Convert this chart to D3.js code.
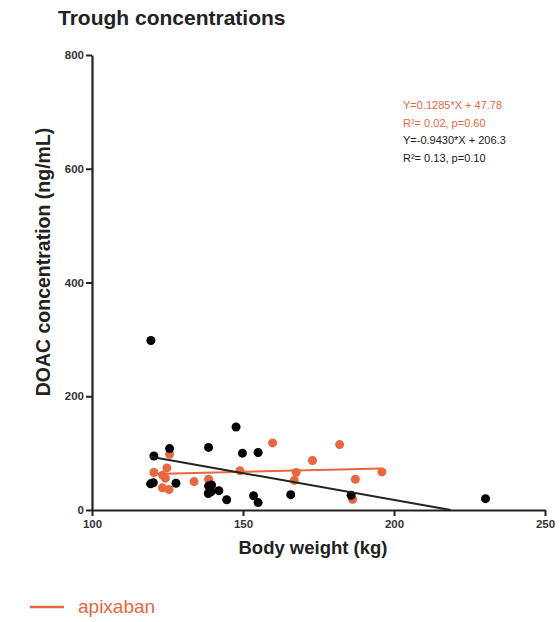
<!DOCTYPE html>
<html>
<head>
<meta charset="utf-8">
<script src="https://cdn.jsdelivr.net/npm/d3@7.9.0/dist/d3.min.js"></script>
<style>
  body { margin: 0; background: #fff; }
  svg { font-family: "Liberation Sans", Arial, Helvetica, sans-serif; }
</style>
</head>
<body>
<svg id="chart" width="560" height="622"></svg>
<script>
// Data: [body weight kg, concentration ng/mL]
const blackPoints = [
    [119.5, 298], [147.7, 146], [138.6, 110], [125.7, 108], [120.5, 95],
    [149.8, 100], [155, 101], [119.4, 46], [120.3, 48], [127.8, 47],
    [138.6, 42], [139.6, 44], [138.5, 29], [139.4, 32], [142, 34],
    [144.6, 18], [153.5, 25], [155, 13], [165.8, 27], [185.8, 26], [230.3, 20]
];
const apixabanPoints = [
    [159.8, 118], [125.7, 98], [124.8, 74], [120.5, 66], [123.4, 61],
    [124.3, 56], [123.3, 39], [125.5, 36], [133.8, 50], [138.6, 54],
    [149, 69], [167, 52], [182, 115], [173, 87], [167.6, 66],
    [187.2, 54], [196, 67], [186.3, 19]
];
// fitted lines [slope, intercept]
const apixabanFit = [0.1285, 47.78];
const blackFit = [-0.9430, 206.3];

const xTicks = [100, 150, 200, 250];
const yTicks = [0, 200, 400, 600, 800];
const annotations = [
    { text: 'Y=0.1285*X + 47.78', color: 'orange' },
    { text: 'R²= 0.02, p=0.60', color: 'orange' },
    { text: 'Y=-0.9430*X + 206.3', color: 'black' },
    { text: 'R²= 0.13, p=0.10', color: 'black' }
];

const orange = '#e8673f';
const dark = '#1a1a1a';

const svg = d3.select('#chart');

const x = d3.scaleLinear().domain([100, 250]).range([92, 545]);
const y = d3.scaleLinear().domain([0, 800]).range([510, 55]);

// Title
svg.append('text')
    .attr('x', 58).attr('y', 25)
    .attr('font-size', 21).attr('font-weight', 'bold')
    .attr('fill', '#222')
    .text('Trough concentrations');

// Axes
let xAxis = svg.append('g')
    .attr('transform', `translate(0,${y(0)})`)
    .call(d3.axisBottom(x).tickValues(xTicks).tickSize(6).tickSizeOuter(0).tickPadding(4));
let yAxis = svg.append('g')
    .attr('transform', `translate(${x(100)},0)`)
    .call(d3.axisLeft(y).tickValues(yTicks).tickSize(6).tickSizeOuter(0).tickPadding(2));

[xAxis, yAxis].forEach(ax => {
    ax.select('.domain').attr('stroke', '#222').attr('stroke-width', 2.2);
    ax.selectAll('.tick line').attr('stroke', '#222').attr('stroke-width', 2);
    ax.selectAll('.tick text')
        .attr('font-size', 11.5).attr('font-weight', 'bold')
        .attr('fill', '#333')
        .attr('font-family', '"Liberation Sans", Arial, sans-serif');
});

// Axis labels
svg.append('text')
    .attr('x', 313).attr('y', 554)
    .attr('text-anchor', 'middle')
    .attr('font-size', 18.5).attr('font-weight', 'bold').attr('fill', '#222')
    .text('Body weight (kg)');
svg.append('text')
    .attr('transform', 'translate(50,262) rotate(-90)')
    .attr('text-anchor', 'middle')
    .attr('font-size', 19.5).attr('font-weight', 'bold').attr('fill', '#222')
    .text('DOAC concentration (ng/mL)');

// Fit lines
function fitSegment(points, fit) {
    let minX = d3.min(points, d => d[0]);
    let maxX = d3.max(points, d => d[0]);
    let [m, b] = fit;
    if (m < 0) maxX = Math.min(maxX, -b / m); // stop at y = 0
    return [[minX, m * minX + b], [maxX, m * maxX + b]];
}
const line = d3.line().x(d => x(d[0])).y(d => y(d[1]));

// Points
svg.append('g').selectAll('circle')
    .data(apixabanPoints).join('circle')
    .attr('cx', d => x(d[0])).attr('cy', d => y(d[1]))
    .attr('r', 4.5).attr('fill', orange);
svg.append('g').selectAll('circle')
    .data(blackPoints).join('circle')
    .attr('cx', d => x(d[0])).attr('cy', d => y(d[1]))
    .attr('r', 4.5).attr('fill', '#000');

svg.append('path')
    .attr('d', line(fitSegment(apixabanPoints, apixabanFit)))
    .attr('stroke', orange).attr('stroke-width', 2).attr('fill', 'none');
svg.append('path')
    .attr('d', line(fitSegment(blackPoints, blackFit)))
    .attr('stroke', '#222').attr('stroke-width', 2).attr('fill', 'none');

// Equations
svg.append('g').selectAll('text')
    .data(annotations).join('text')
    .attr('x', 403).attr('y', (d, i) => 109 + i * 17.5)
    .attr('font-size', 11)
    .attr('fill', d => d.color === 'orange' ? orange : dark)
    .text(d => d.text);

// Legend
svg.append('line')
    .attr('x1', 30).attr('x2', 64).attr('y1', 607).attr('y2', 607)
    .attr('stroke', orange).attr('stroke-width', 2.5);
svg.append('text')
    .attr('x', 78).attr('y', 613)
    .attr('font-size', 19).attr('fill', orange)
    .text('apixaban');
</script>
</body>
</html>
